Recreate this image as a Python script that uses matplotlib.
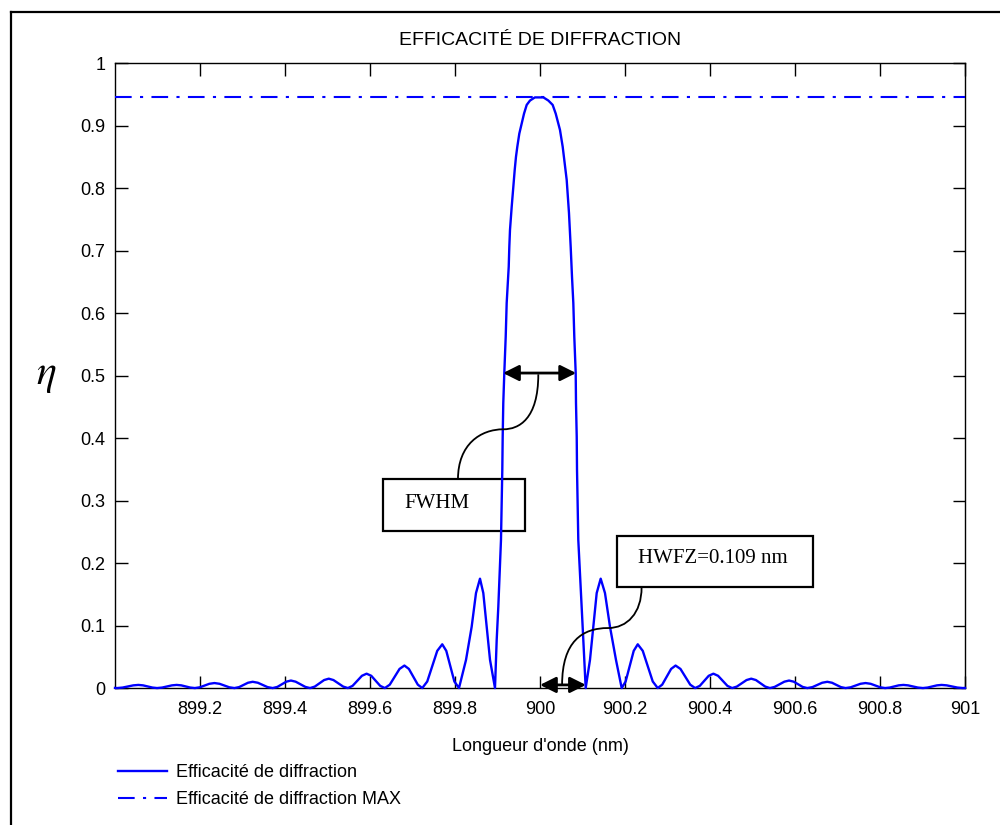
import matplotlib
matplotlib.use("Agg")
import matplotlib.pyplot as plt
import numpy as np
from matplotlib.path import Path
from matplotlib.patches import PathPatch, Rectangle
from matplotlib.lines import Line2D

plt.rcParams['font.family'] = ['Liberation Sans', 'DejaVu Sans']
plt.rcParams['mathtext.fontset'] = 'stix'

# ---- data ----
CENTER_NM = 900.0
ETA_MAX = 0.945

# right half: offset from the Bragg wavelength (nm) and efficiency
offset_right = [0.000, 0.008, 0.0196, 0.0298, 0.037, 0.047, 0.0534, 0.0628, 0.0682, 0.0722,
                0.0753, 0.0784, 0.0807, 0.084, 0.0847, 0.0864, 0.0871, 0.0901, 0.0981, 0.1019, 0.1075,
                0.1176, 0.1255, 0.1334, 0.1428, 0.1529, 0.1647, 0.1788, 0.1922,
                0.2015, 0.211, 0.2205, 0.230, 0.2418, 0.2535, 0.2653, 0.277,
                0.2875, 0.298, 0.3085, 0.319, 0.3305, 0.342, 0.3535, 0.365,
                0.376, 0.3865, 0.397, 0.408, 0.419, 0.430, 0.441, 0.452,
                0.463, 0.4745, 0.486, 0.497, 0.508, 0.519, 0.530, 0.541,
                0.552, 0.5635, 0.575, 0.586, 0.597, 0.6075, 0.618, 0.629,
                0.641, 0.6525, 0.664, 0.676, 0.687, 0.6975, 0.708, 0.719,
                0.731, 0.7425, 0.754, 0.766, 0.778, 0.789, 0.8005, 0.812,
                0.823, 0.8335, 0.844, 0.855, 0.866, 0.878, 0.889, 0.901,
                0.912, 0.923, 0.934, 0.945, 0.957, 0.9695, 0.982, 0.995, 1.000]
eta_right = [0.945, 0.945, 0.940, 0.933, 0.919, 0.893, 0.866, 0.813, 0.760, 0.706,
             0.658, 0.616, 0.562, 0.504, 0.456, 0.402, 0.349, 0.237, 0.130, 0.077, 0.000,
             0.045, 0.098, 0.152, 0.175, 0.152, 0.098, 0.045, 0.000,
             0.0105, 0.035, 0.0595, 0.070, 0.0595, 0.035, 0.0105, 0.000,
             0.0054, 0.018, 0.0306, 0.036, 0.0306, 0.018, 0.0054, 0.000,
             0.0035, 0.0115, 0.0196, 0.023, 0.0196, 0.0115, 0.0035, 0.000,
             0.0023, 0.0075, 0.0128, 0.015, 0.0128, 0.0075, 0.0023, 0.000,
             0.0018, 0.006, 0.0102, 0.012, 0.0102, 0.006, 0.0018, 0.000,
             0.0015, 0.005, 0.0085, 0.010, 0.0085, 0.005, 0.0015, 0.000,
             0.0012, 0.004, 0.0068, 0.008, 0.0068, 0.004, 0.0012, 0.000,
             0.0008, 0.0025, 0.0043, 0.005, 0.0043, 0.0025, 0.0008, 0.000,
             0.0008, 0.0025, 0.0043, 0.005, 0.0043, 0.0025, 0.0008, 0.000, 0.0002]

# left half, listed outward from the centre
offset_left = [-0.012, -0.0235, -0.0313, -0.0376, -0.0431, -0.0487, -0.0534, -0.0565, -0.0595, -0.0628,
               -0.0666, -0.0706, -0.0722, -0.0736, -0.0784, -0.0807, -0.084, -0.0864, -0.0878, -0.0887,
               -0.0918, -0.0981, -0.1019, -0.1059,
               -0.1176, -0.1255, -0.1334, -0.1412, -0.1506, -0.1608, -0.1741, -0.1906,
               -0.2015, -0.211, -0.2205, -0.230, -0.2418, -0.2535, -0.2653, -0.277,
               -0.2875, -0.298, -0.3085, -0.319, -0.3305, -0.342, -0.3535, -0.365,
               -0.376, -0.3865, -0.397, -0.408, -0.419, -0.430, -0.441, -0.452,
               -0.463, -0.4745, -0.486, -0.497, -0.508, -0.519, -0.530, -0.541,
               -0.552, -0.5635, -0.575, -0.586, -0.597, -0.6075, -0.618, -0.629,
               -0.641, -0.6525, -0.664, -0.676, -0.687, -0.6975, -0.708, -0.719,
               -0.731, -0.7425, -0.754, -0.766, -0.778, -0.789, -0.8005, -0.812,
               -0.823, -0.8335, -0.844, -0.855, -0.866, -0.878, -0.889, -0.901,
               -0.912, -0.923, -0.934, -0.945, -0.957, -0.9695, -0.982, -0.995, -1.000]
eta_left = [0.945, 0.940, 0.933, 0.919, 0.903, 0.887, 0.866, 0.850, 0.829, 0.802,
            0.770, 0.733, 0.706, 0.674, 0.616, 0.562, 0.504, 0.456, 0.402, 0.349,
            0.237, 0.130, 0.077, 0.000,
            0.045, 0.098, 0.152, 0.175, 0.152, 0.098, 0.045, 0.000,
            0.0105, 0.035, 0.0595, 0.070, 0.0595, 0.035, 0.0105, 0.000,
            0.0054, 0.018, 0.0306, 0.036, 0.0306, 0.018, 0.0054, 0.000,
            0.0035, 0.0115, 0.0196, 0.023, 0.0196, 0.0115, 0.0035, 0.000,
            0.0023, 0.0075, 0.0128, 0.015, 0.0128, 0.0075, 0.0023, 0.000,
            0.0018, 0.006, 0.0102, 0.012, 0.0102, 0.006, 0.0018, 0.000,
            0.0015, 0.005, 0.0085, 0.010, 0.0085, 0.005, 0.0015, 0.000,
            0.0012, 0.004, 0.0068, 0.008, 0.0068, 0.004, 0.0012, 0.000,
            0.0008, 0.0025, 0.0043, 0.005, 0.0043, 0.0025, 0.0008, 0.000,
            0.0008, 0.0025, 0.0043, 0.005, 0.0043, 0.0025, 0.0008, 0.000, 0.0002]

x_ticks = [899.2, 899.4, 899.6, 899.8, 900.0, 900.2, 900.4, 900.6, 900.8, 901.0]
x_ticklabels = ['899.2', '899.4', '899.6', '899.8', '900', '900.2', '900.4', '900.6', '900.8', '901']
y_ticks = [0, 0.1, 0.2, 0.3, 0.4, 0.5, 0.6, 0.7, 0.8, 0.9, 1.0]
y_ticklabels = ['0', '0.1', '0.2', '0.3', '0.4', '0.5', '0.6', '0.7', '0.8', '0.9', '1']

FWHM_LEFT, FWHM_RIGHT, FWHM_LEVEL = 899.913, 900.085, 0.504
HWFZ_START, HWFZ_END = 900.0, 900.108

# ---- figure ----
fig = plt.figure(figsize=(10, 8.25), dpi=100)
ax = fig.add_axes([0.115, 0.166, 0.85, 0.7576])

lam = np.concatenate([CENTER_NM + np.array(offset_left[::-1]), CENTER_NM + np.array(offset_right)])
eta = np.concatenate([np.array(eta_left[::-1]), np.array(eta_right)])

blue = '#0000ff'
ax.plot(lam, eta, color=blue, lw=1.7, label='Efficacité de diffraction', clip_on=False, zorder=3,
        solid_joinstyle='round')
ax.axhline(ETA_MAX, color=blue, lw=1.5, dashes=(8, 4, 1.5, 4), label='Efficacité de diffraction MAX', zorder=3)

ax.set_xlim(899.0, 901.0)
ax.set_ylim(0, 1)
ax.set_xticks(x_ticks)
ax.set_xticklabels(x_ticklabels)
ax.set_yticks(y_ticks)
ax.set_yticklabels(y_ticklabels)
ax.tick_params(direction='in', length=9, width=1.0, top=True, right=True, labelsize=13,
               colors='black')
ax.tick_params(axis='x', pad=9)
ax.tick_params(axis='y', pad=7)
for s in ax.spines.values():
    s.set_linewidth(1.0)

ax.set_xlabel("Longueur d'onde (nm)", fontsize=13, labelpad=15)
fig.text(0.54, 0.951, 'EFFICACITÉ DE DIFFRACTION', ha='center', va='center', fontsize=14)
fig.text(0.046, 1 - 375 / 825, r'$\eta$', ha='center', va='center', fontsize=30)

# FWHM / HWFZ arrows and labels
arrow_kw = dict(arrowstyle='<|-|>', color='black', lw=2.0, mutation_scale=24,
                shrinkA=0, shrinkB=0)
ax.annotate('', xy=(FWHM_LEFT, FWHM_LEVEL), xytext=(FWHM_RIGHT, FWHM_LEVEL), arrowprops=arrow_kw, zorder=5)
ax.annotate('', xy=(HWFZ_START, 0.005), xytext=(HWFZ_END, 0.005), arrowprops=arrow_kw,
            annotation_clip=False, zorder=5)

ax.add_patch(Rectangle((899.631, 0.2517), 0.334, 0.0823, fill=False, lw=1.6, ec='black', zorder=2))
ax.text(899.682, 0.296, 'FWHM', family=['Liberation Serif'], fontsize=15, va='center', ha='left')
ax.add_patch(Rectangle((900.1805, 0.1611), 0.4611, 0.0826, fill=False, lw=1.6, ec='black', zorder=2))
ax.text(900.23, 0.208, 'HWFZ=0.109 nm', family=['Liberation Serif'], fontsize=15, va='center', ha='left')

C = Path.CURVE4
p1 = Path([(899.996, 0.502), (899.996, 0.43), (899.95, 0.414), (899.914, 0.414),
           (899.86, 0.414), (899.807, 0.39), (899.807, 0.334)],
          [Path.MOVETO, C, C, C, C, C, C])
ax.add_patch(PathPatch(p1, fill=False, lw=1.3, ec='black', zorder=4))
p2 = Path([(900.052, 0.005), (900.052, 0.075), (900.10, 0.096), (900.16, 0.096),
           (900.205, 0.096), (900.239, 0.12), (900.239, 0.161)],
          [Path.MOVETO, C, C, C, C, C, C])
ax.add_patch(PathPatch(p2, fill=False, lw=1.3, ec='black', zorder=4))

# legend
fig.legend(loc='upper left', bbox_to_anchor=(0.118, 1 - 764 / 825), frameon=False, fontsize=13,
           handlelength=2.7, handletextpad=0.5, labelspacing=0.55, borderpad=0, borderaxespad=0)

# figure frame lines (top and left)
fig.add_artist(Line2D([0.011, 1.0], [1 - 12 / 825, 1 - 12 / 825], transform=fig.transFigure,
                      color='black', lw=1.6))
fig.add_artist(Line2D([0.011, 0.011], [0, 1 - 12 / 825], transform=fig.transFigure,
                      color='black', lw=1.6))

fig.savefig('out.png', dpi=100)
